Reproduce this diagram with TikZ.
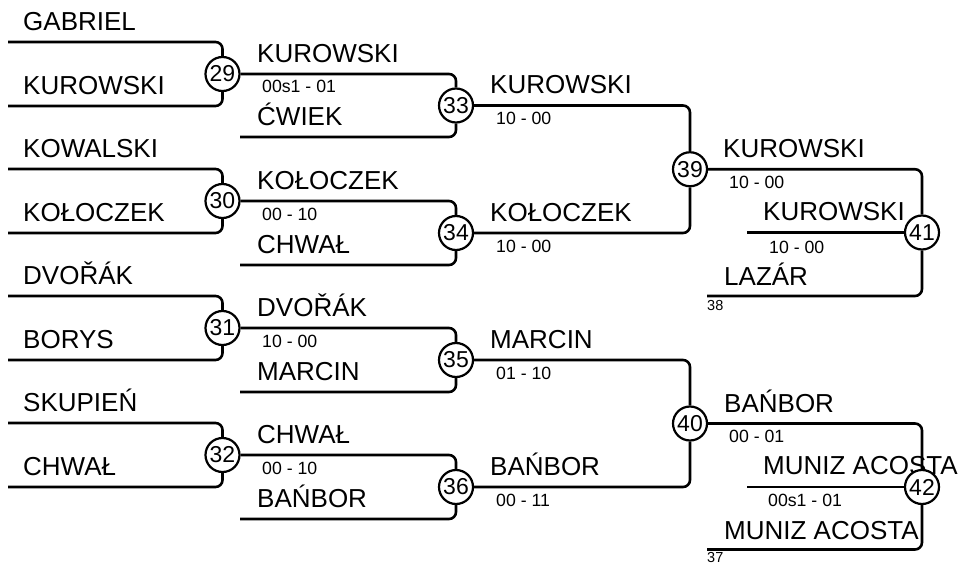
\documentclass[tikz,border=0pt]{standalone}
\usepackage{fontspec}
\setmainfont{Liberation Sans}
\begin{document}
\begin{tikzpicture}[x=1pt,y=-1pt,
  ln/.style={line width=2.6pt, rounded corners=7pt},
  mc/.style={circle, draw, line width=2.2pt, fill=white, minimum size=34pt, inner sep=0pt, font=\fontsize{23}{23}\selectfont},
  nm/.style={anchor=base west, inner sep=0pt, font=\fontsize{26}{26}\selectfont},
  sc/.style={anchor=base west, inner sep=0pt, font=\fontsize{17.7}{18}\selectfont},
  sd/.style={anchor=base west, inner sep=0pt, font=\fontsize{14.5}{15}\selectfont}]
\useasboundingbox[fill=white] (0,0) rectangle (966,564);
% round 1 names
\node[nm] (a1) at (23,30.5) {GABRIEL};
\node[nm] (a2) at (23,94.5) {KUROWSKI};
\node[nm] (a3) at (23,157.5) {KOWALSKI};
\node[nm] (a4) at (23,221.5) {KOŁOCZEK};
\node[nm] (a5) at (23,284.5) {DVOŘÁK};
\node[nm] (a6) at (23,348.5) {BORYS};
\node[nm] (a7) at (23,411.5) {SKUPIEŃ};
\node[nm] (a8) at (23,475.5) {CHWAŁ};
% round 2 names
\node[nm] (b1) at (257,62.5) {KUROWSKI};
\node[sc] (bs1) at (262,93) {00s1 - 01};
\node[nm] (b2) at (257,125.5) {ĆWIEK};
\node[nm] (b3) at (257,189.5) {KOŁOCZEK};
\node[sc] (bs3) at (262,220) {00 - 10};
\node[nm] (b4) at (257,253.5) {CHWAŁ};
\node[nm] (b5) at (257,316.5) {DVOŘÁK};
\node[sc] (bs5) at (262,347) {10 - 00};
\node[nm] (b6) at (257,380.5) {MARCIN};
\node[nm] (b7) at (257,443.5) {CHWAŁ};
\node[sc] (bs7) at (262,474) {00 - 10};
\node[nm] (b8) at (257,507.5) {BAŃBOR};
% round 3 names
\node[nm] (c1) at (490,94) {KUROWSKI};
\node[sc] (cs1) at (496,124.5) {10 - 00};
\node[nm] (c2) at (490,221.5) {KOŁOCZEK};
\node[sc] (cs2) at (496,252) {10 - 00};
\node[nm] (c3) at (490,348.5) {MARCIN};
\node[sc] (cs3) at (496,379) {01 - 10};
\node[nm] (c4) at (490,475.5) {BAŃBOR};
\node[sc] (cs4) at (496,506) {00 - 11};
% round 4 names
\node[nm] (d1) at (723,157.5) {KUROWSKI};
\node[sc] (ds1) at (729,188.5) {10 - 00};
\node[nm] (d2) at (763,220.5) {KUROWSKI};
\node[sc] (ds2) at (769,253) {10 - 00};
\node[nm] (d3) at (724,285) {LAZÁR};
\node[sd] (dn3) at (707,310) {38};
\node[nm] (d4) at (724,412) {BAŃBOR};
\node[sc] (ds4) at (729,442) {00 - 01};
\node[nm] (d5) at (763,474) {MUNIZ ACOSTA};
\node[sc] (ds5) at (768,506) {00s1 - 01};
\node[nm] (d6) at (724,539) {MUNIZ ACOSTA};
\node[sd] (dn6) at (707,562) {37};
% match circles
\node[mc] (m29) at (222.5,74) {29};
\node[mc] (m30) at (222.5,201) {30};
\node[mc] (m31) at (222.5,328) {31};
\node[mc] (m32) at (222.5,455) {32};
\node[mc] (m33) at (456,105.5) {33};
\node[mc] (m34) at (456,233) {34};
\node[mc] (m35) at (456,360) {35};
\node[mc] (m36) at (456,487) {36};
\node[mc] (m39) at (690,169.25) {39};
\node[mc] (m40) at (690,423.5) {40};
\node[mc] (m41) at (922,232.5) {41};
\node[mc] (m42) at (922,487) {42};
% free line starts
\coordinate (s1) at (8,42);
\coordinate (s2) at (8,106);
\coordinate (s3) at (8,169);
\coordinate (s4) at (8,233);
\coordinate (s5) at (8,296);
\coordinate (s6) at (8,360);
\coordinate (s7) at (8,423);
\coordinate (s8) at (8,487);
\coordinate (t2) at (240,137);
\coordinate (t4) at (240,265);
\coordinate (t6) at (240,392);
\coordinate (t8) at (240,519);
\coordinate (u1) at (747,232.5);
\coordinate (u2) at (707,296);
\coordinate (u3) at (747,487);
\coordinate (u4) at (707,549.5);
% round 1 connectors
\draw[ln] (s1) -- (s1 -| m29) -- (m29.north);
\draw[ln] (s2) -- (s2 -| m29) -- (m29.south);
\draw[ln] (s3) -- (s3 -| m30) -- (m30.north);
\draw[ln] (s4) -- (s4 -| m30) -- (m30.south);
\draw[ln] (s5) -- (s5 -| m31) -- (m31.north);
\draw[ln] (s6) -- (s6 -| m31) -- (m31.south);
\draw[ln] (s7) -- (s7 -| m32) -- (m32.north);
\draw[ln] (s8) -- (s8 -| m32) -- (m32.south);
% round 2 connectors
\draw[ln] (m29.east) -- (m29.east -| m33) -- (m33.north);
\draw[ln] (t2) -- (t2 -| m33) -- (m33.south);
\draw[ln] (m30.east) -- (m30.east -| m34) -- (m34.north);
\draw[ln] (t4) -- (t4 -| m34) -- (m34.south);
\draw[ln] (m31.east) -- (m31.east -| m35) -- (m35.north);
\draw[ln] (t6) -- (t6 -| m35) -- (m35.south);
\draw[ln] (m32.east) -- (m32.east -| m36) -- (m36.north);
\draw[ln] (t8) -- (t8 -| m36) -- (m36.south);
% round 3 connectors
\draw[ln] (m33.east) -- (m33.east -| m39) -- (m39.north);
\draw[ln] (m34.east) -- (m34.east -| m39) -- (m39.south);
\draw[ln] (m35.east) -- (m35.east -| m40) -- (m40.north);
\draw[ln] (m36.east) -- (m36.east -| m40) -- (m40.south);
% round 4 connectors
\draw[ln] (m39.east) -- (m39.east -| m41) -- (m41.north);
\draw[ln] (u1) -- (m41.west);
\draw[ln] (u2) -- (u2 -| m41) -- (m41.south);
\draw[ln] (m40.east) -- (m40.east -| m42) -- (m42.north);
\draw[ln] (u3) -- (m42.west);
\draw[ln] (u4) -- (u4 -| m42) -- (m42.south);
\end{tikzpicture}
\end{document}
